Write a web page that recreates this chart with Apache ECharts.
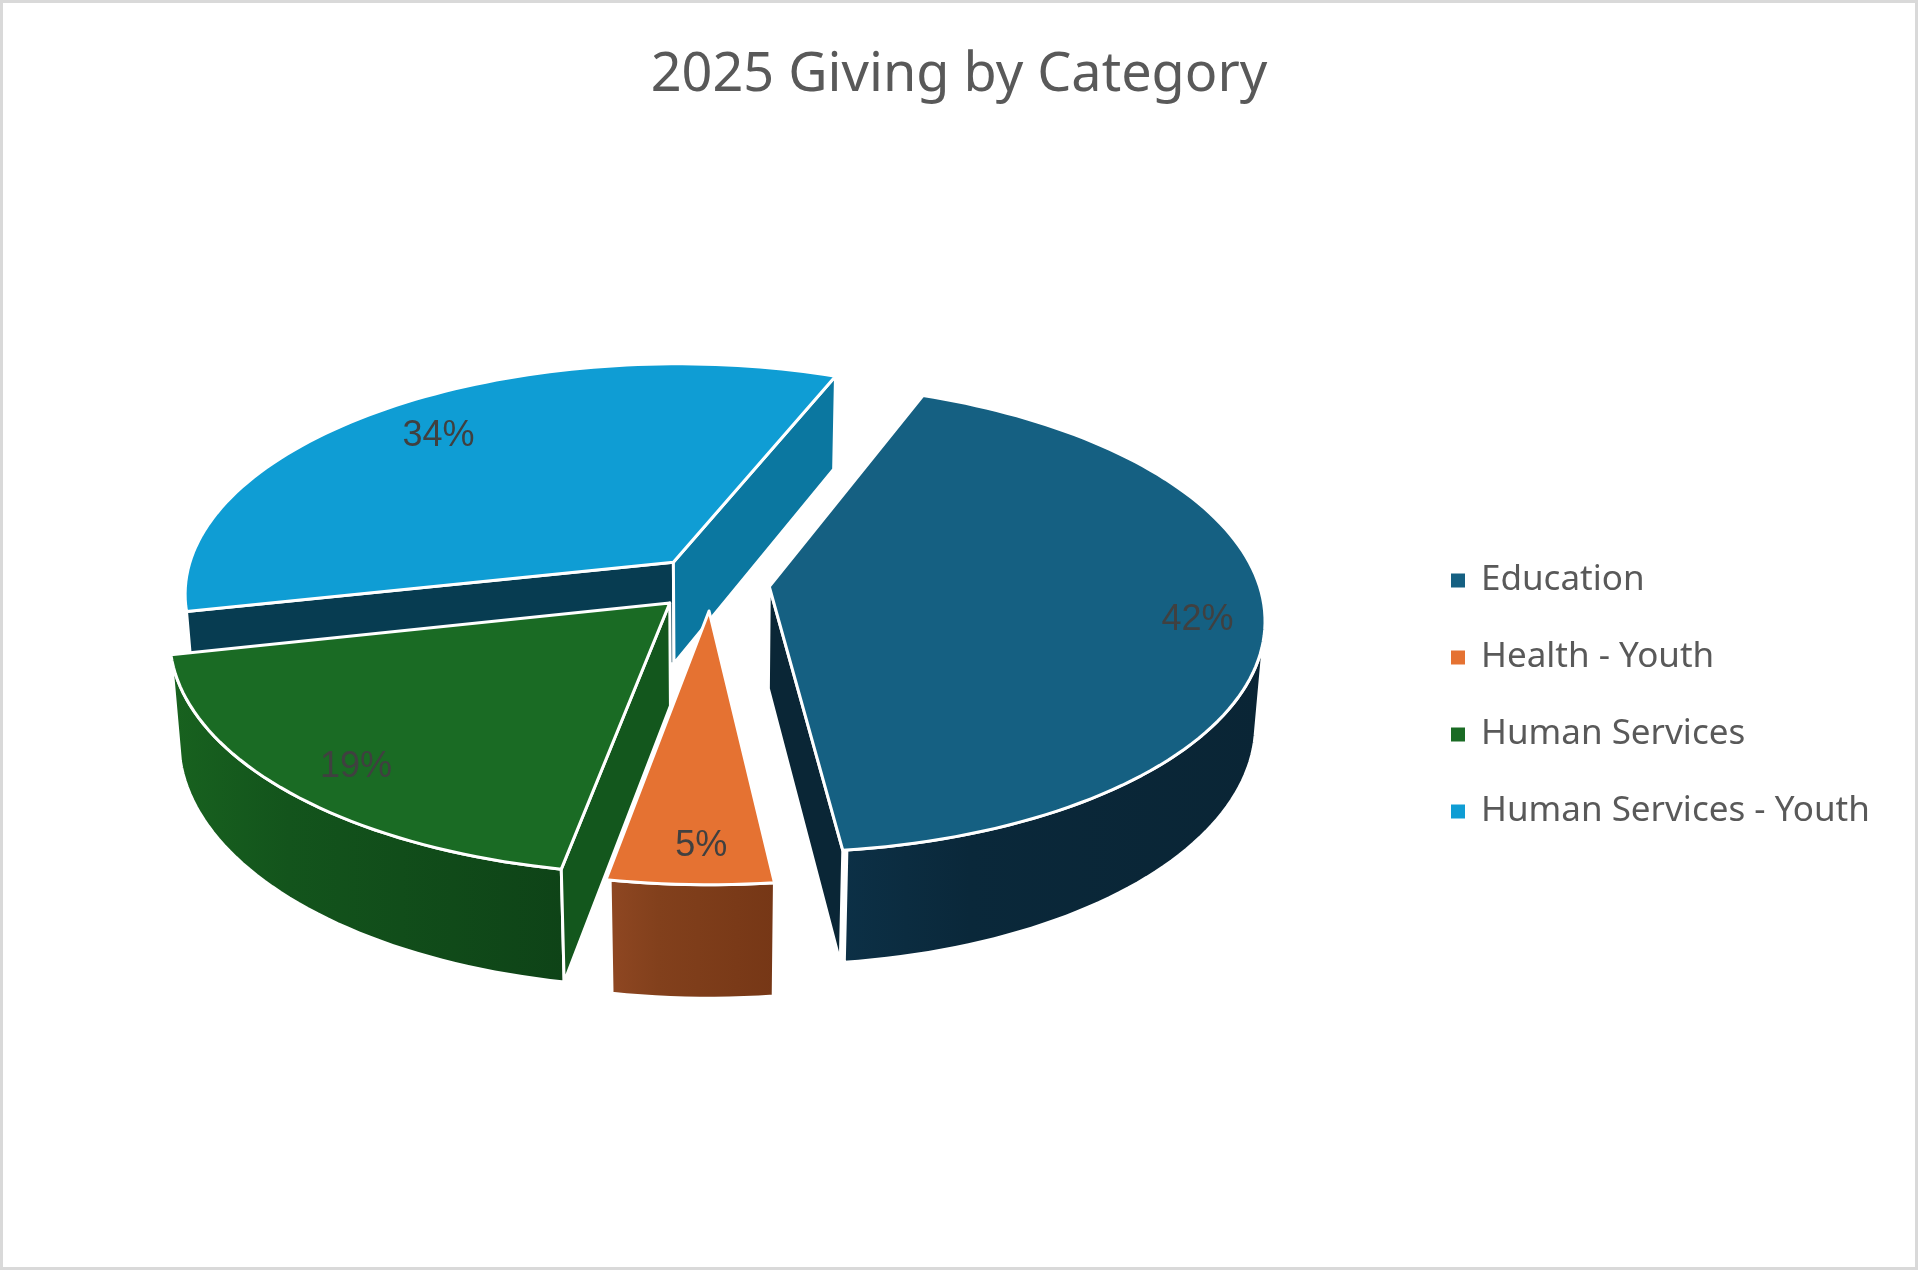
<!DOCTYPE html>
<html>
<head>
<meta charset="utf-8">
<title>2025 Giving by Category</title>
<script src="https://cdn.jsdelivr.net/npm/echarts@6/dist/echarts.min.js"></script>
<style>
  html, body { margin: 0; padding: 0; background: #fff; }
  #pie3d { width: 1918px; height: 1270px; }
</style>
</head>
<body>
<div id="pie3d"></div>
<script>
// data (shares in %; labels round them)
var categories = ['Education', 'Health - Youth', 'Human Services', 'Human Services - Youth'];
var values = [42.2, 4.7, 18.7, 34.4];

// colours (top face, outer side gradient, radial faces)
var topColors = ['#156082', '#e57232', '#1a6b24', '#0f9dd4'];
var sideStops = [
    ['#0c3046', '#0a283a', '#0a2535'],
    ['#8f4722', '#82401c', '#763716'],
    ['#18621f', '#13541c', '#0e4317'],
    ['#07445e', '#063e56', '#05384d']
];
var faceColors = [
    { start: '#0d3a50', end: '#0a2636' },
    { start: '#9a4b22', end: '#7a3a18' },
    { start: '#13571d', end: '#0f4318' },
    { start: '#073c51', end: '#0b77a0' }
];

// fake 3d camera
var view = {
    cx: 711, cy: 583,
    f: 3278, dist: 6.7,
    tilt: 28 * Math.PI / 180,
    thick: 0.24,
    explode: 0.12,
    rotate: 21.5,
    labelRadius: 0.85,
    labelDx: 8,
    labelDy: 8
};

function rad(d) { return d * Math.PI / 180; }

function project(X, Y, Z) {
    var s = Math.sin(view.tilt), c = Math.cos(view.tilt);
    var depth = view.dist + Z * c - Y * s;
    var up = Y * c + Z * s;
    return [view.cx + view.f * X / depth, view.cy - view.f * up / depth];
}

var total = values.reduce(function (a, b) { return a + b; }, 0);

function sliceGeom(i) {
    var before = 0;
    for (var k = 0; k < i; k++) before += values[k];
    var start = view.rotate + 360 * before / total;
    var end = start + 360 * values[i] / total;
    var mid = (start + end) / 2;
    return {
        start: start, end: end, mid: mid,
        ox: view.explode * Math.sin(rad(mid)),
        oz: view.explode * Math.cos(rad(mid))
    };
}

function rim(g, deg, y, r) {
    if (r == null) r = 1;
    var a = rad(deg);
    return project(g.ox + r * Math.sin(a), y, g.oz + r * Math.cos(a));
}

function arc(g, a0, a1, y) {
    var pts = [];
    var n = Math.max(2, Math.ceil(Math.abs(a1 - a0) / 1.5));
    for (var j = 0; j <= n; j++) pts.push(rim(g, a0 + (a1 - a0) * j / n, y));
    return pts;
}

// camera-facing test for a face with horizontal normal (nx, nz) through point (px, pz)
function facing(nx, nz, px, pz) {
    var camZ = -view.dist * Math.cos(view.tilt);
    return nx * (0 - px) + nz * (camZ - pz) > 0;
}

// draw order of side faces: far slices first
var order = values.map(function (v, i) { return i; }).sort(function (a, b) {
    return Math.cos(rad(sliceGeom(b).mid)) - Math.cos(rad(sliceGeom(a).mid));
});

function gradient(stops) {
    return new echarts.graphic.LinearGradient(0, 0, 1, 0, [
        { offset: 0, color: stops[0] },
        { offset: 0.3, color: stops[1] },
        { offset: 1, color: stops[2] }
    ]);
}

function renderSlice(i) {
    var g = sliceGeom(i);
    var t = -view.thick;
    var rank = order.indexOf(i) + 1;
    var edge = { stroke: '#ffffff', lineWidth: 3, lineJoin: 'round' };
    var children = [];
    var apexTop = project(g.ox, 0, g.oz);
    var apexBot = project(g.ox, t, g.oz);

    // outer curved side, only the visible part
    var vis = [];
    for (var d = g.start; d <= g.end + 1e-6; d += 0.5) {
        var a = rad(d);
        if (facing(Math.sin(a), Math.cos(a), g.ox + Math.sin(a), g.oz + Math.cos(a))) vis.push(d);
    }
    if (vis.length > 1) {
        var a0 = vis[0], a1 = vis[vis.length - 1];
        var pts = arc(g, a0, a1, 0).concat(arc(g, a1, a0, t));
        children.push({
            type: 'polygon', z2: rank,
            shape: { points: pts },
            style: Object.assign({ fill: gradient(sideStops[i]) }, edge)
        });
    }

    // radial faces
    var sa = rad(g.start), ea = rad(g.end);
    if (facing(-Math.cos(sa), Math.sin(sa), g.ox, g.oz)) {
        children.push({
            type: 'polygon', z2: rank + 0.5,
            shape: { points: [apexTop, rim(g, g.start, 0), rim(g, g.start, t), apexBot] },
            style: Object.assign({ fill: faceColors[i].start }, edge)
        });
    }
    if (facing(Math.cos(ea), -Math.sin(ea), g.ox, g.oz)) {
        children.push({
            type: 'polygon', z2: rank + 0.5,
            shape: { points: [apexTop, rim(g, g.end, 0), rim(g, g.end, t), apexBot] },
            style: Object.assign({ fill: faceColors[i].end }, edge)
        });
    }

    // top face
    children.push({
        type: 'polygon', z2: 50,
        shape: { points: [apexTop].concat(arc(g, g.start, g.end, 0)) },
        style: Object.assign({ fill: topColors[i] }, edge)
    });

    // data label
    var lp = rim(g, g.mid, 0, view.labelRadius);
    children.push({
        type: 'text', z2: 60,
        x: lp[0] + view.labelDx, y: lp[1] + view.labelDy,
        style: {
            text: Math.round(values[i] / total * 100) + '%',
            fill: '#404040',
            font: '36px "Liberation Sans", Arial, sans-serif',
            align: 'center',
            verticalAlign: 'middle'
        }
    });

    return { type: 'group', children: children };
}

var chart = echarts.init(document.getElementById('pie3d'));

var series = categories.map(function (name, i) {
    return {
        name: name,
        type: 'custom',
        coordinateSystem: 'none',
        itemStyle: { color: topColors[i] },
        data: [{ name: name, value: values[i] }],
        renderItem: function () { return renderSlice(i); }
    };
});

var option = {
    backgroundColor: '#ffffff',
    animation: false,
    title: {
        text: '2025 Giving by Category',
        left: 'center',
        top: 44,
        textStyle: {
            fontFamily: 'Noto Sans',
            fontSize: 54,
            fontWeight: 'normal',
            color: '#595959'
        }
    },
    legend: {
        data: categories,
        orient: 'vertical',
        left: 1446,
        top: 558,
        itemWidth: 36,
        itemHeight: 14,
        itemGap: 42,
        icon: 'path://M0,0H10V10H0Z',
        symbolKeepAspect: true,
        selectedMode: false,
        textStyle: {
            fontFamily: 'Noto Sans',
            fontSize: 35,
            lineHeight: 35,
            color: '#595959'
        }
    },
    graphic: [{
        type: 'rect',
        silent: true,
        shape: { x: 1.5, y: 1.5, width: 1915, height: 1267 },
        style: { fill: 'none', stroke: '#d9d9d9', lineWidth: 3 }
    }],
    series: series
};

chart.setOption(option);
</script>
</body>
</html>
